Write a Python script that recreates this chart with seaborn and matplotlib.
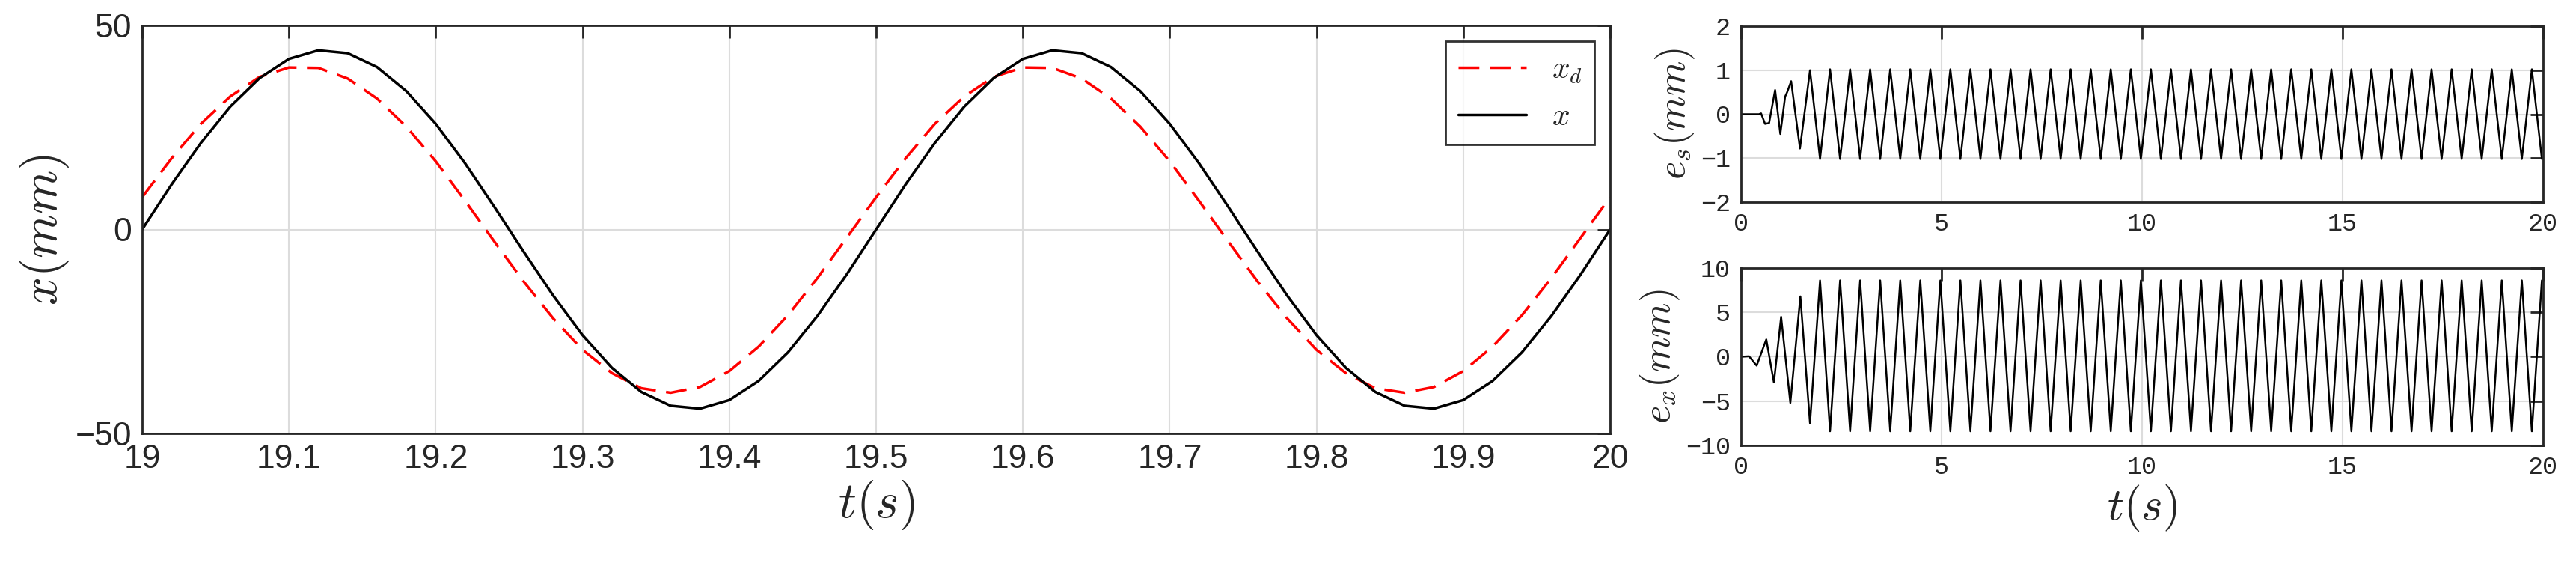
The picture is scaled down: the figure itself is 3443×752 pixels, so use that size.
import numpy as np
import matplotlib
matplotlib.use('Agg')
import matplotlib.pyplot as plt
import seaborn as sns

# main plot, sampled every 0.02 s from 19 to 20 s
t_main = np.round(np.arange(19.0, 20.0001, 0.02), 2)
xd_cycle = [7.9, 17.4, 25.9, 32.6, 37.4, 39.7, 39.6, 37.0, 32.1, 25.2, 16.7, 7.0, -3.0,
            -12.8, -21.8, -29.5, -35.2, -38.9, -40.0, -38.6, -34.7, -28.7, -21.0, -11.9, -2.0]
x_cycle = [0, 11.0, 21.2, 30.1, 37.1, 41.8, 43.9, 43.2, 39.8, 33.9, 25.9, 16.2, 5.5,
           -5.5, -16.2, -25.9, -33.9, -39.8, -43.2, -43.9, -41.8, -37.1, -30.1, -21.2, -11.0]
xd_vals = xd_cycle * 2 + [xd_cycle[0]]
x_vals = x_cycle * 2 + [x_cycle[0]]

# e_s: transient turning points, then steady peaks every 0.25 s
es_t = [0, 0.45, 0.5, 0.6, 0.7, 0.85, 0.98, 1.1, 1.15, 1.25, 1.47, 1.72]
es_v = [0, 0, 0.02, -0.22, -0.2, 0.55, -0.45, 0.4, 0.5, 0.75, -0.78, 1.0]
es_t += list(np.round(1.97 + 0.25 * np.arange(73), 2))
es_v += [-1.02 if i % 2 == 0 else 1.02 for i in range(73)]

# e_x: transient turning points, then steady peaks every 0.25 s
ex_t = [0, 0.2, 0.39, 0.63, 0.82, 1.0, 1.23, 1.48, 1.72]
ex_v = [0, 0.05, -1.0, 1.95, -2.9, 4.5, -5.2, 6.8, -7.5]
ex_t += list(np.round(1.97 + 0.25 * np.arange(73), 2))
ex_v += [8.6 if i % 2 == 0 else -8.4 for i in range(73)]

sns.set_theme(style='white')
plt.rcParams['mathtext.fontset'] = 'cm'
plt.rcParams['font.family'] = ['DejaVu Sans']

fig = plt.figure(figsize=(34.43, 7.52), dpi=100)
W, H = 3443, 752
ax = fig.add_axes([190 / W, 1 - 579 / H, (2152 - 190) / W, (579 - 34) / H])
ax1 = fig.add_axes([2327 / W, 1 - 270 / H, (3399 - 2327) / W, (270 - 35) / H])
ax2 = fig.add_axes([2327 / W, 1 - 595 / H, (3399 - 2327) / W, (595 - 358) / H])


def style(a, fs, fam):
    a.grid(True, color='#dcdcdc', lw=1.5)
    a.set_axisbelow(True)
    for s in a.spines.values():
        s.set_color('#262626')
        s.set_linewidth(2)
    a.tick_params(direction='in', top=True, right=True, length=12, width=2,
                  color='#262626', labelsize=fs, labelcolor='#262626', pad=10)
    for lab in a.get_xticklabels() + a.get_yticklabels():
        lab.set_family(fam)


sns.lineplot(x=t_main, y=xd_vals, ax=ax, color='red', lw=2.5, linestyle=(0, (8, 4)),
             label=r'$x_d$')
sns.lineplot(x=t_main, y=x_vals, ax=ax, color='black', lw=2.5, label=r'$x$')
ax.set_xlim(19, 20)
ax.set_ylim(-50, 50)
ax.set_xticks(np.round(np.arange(19, 20.01, 0.1), 1))
ax.set_xticklabels(['19', '19.1', '19.2', '19.3', '19.4', '19.5', '19.6', '19.7', '19.8', '19.9', '20'])
ax.set_yticks([-50, 0, 50])
style(ax, 32, 'Liberation Sans')
ax.set_xlabel(r'$t(s)$', fontsize=48)
ax.set_ylabel(r'$x(mm)$', fontsize=48)
leg = ax.legend(loc='upper right', fontsize=30, frameon=True, fancybox=False,
                edgecolor='black', handlelength=2.2, borderpad=0.4)
leg.get_frame().set_linewidth(2)

sns.lineplot(x=es_t, y=es_v, ax=ax1, color='black', lw=1.8)
ax1.set_xlim(0, 20)
ax1.set_ylim(-2, 2)
ax1.set_xticks([0, 5, 10, 15, 20])
ax1.set_yticks([-2, -1, 0, 1, 2])
style(ax1, 24, 'Liberation Mono')
ax1.set_ylabel(r'$e_s(mm)$', fontsize=38)

sns.lineplot(x=ex_t, y=ex_v, ax=ax2, color='black', lw=1.8)
ax2.set_xlim(0, 20)
ax2.set_ylim(-10, 10)
ax2.set_xticks([0, 5, 10, 15, 20])
ax2.set_yticks([-10, -5, 0, 5, 10])
style(ax2, 24, 'Liberation Mono')
ax2.set_ylabel(r'$e_x(mm)$', fontsize=38)
ax2.set_xlabel(r'$t(s)$', fontsize=44)

fig.savefig('out.png', dpi=100)
